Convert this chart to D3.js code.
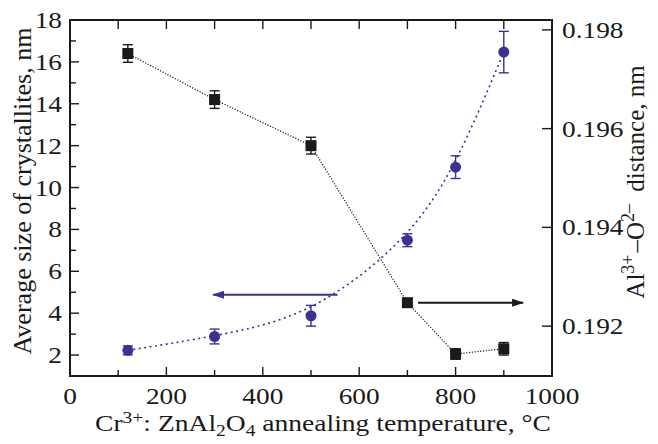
<!DOCTYPE html>
<html>
<head>
<meta charset="utf-8">
<script src="https://cdn.jsdelivr.net/npm/d3@7"></script>
</head>
<body style="margin:0">
<svg id="chart" width="658" height="444"></svg>
<script>
// Annealing temperatures, °C
const temperatures = [120, 300, 500, 700, 800, 900];
// Average crystallite size, nm (left axis)
const crystalliteSize = [16.4, 14.2, 12.0, 4.5, 2.05, 2.3];
const crystalliteErr = [0.42, 0.42, 0.4, 0.2, 0.25, 0.3];
// Al3+–O2– distance, nm (right axis)
const alODistance = [0.19151, 0.19179, 0.19221, 0.19374, 0.19522, 0.19755];
const alOErr = [0.00009, 0.00015, 0.00021, 0.00013, 0.00023, 0.00042];

const xTicks = [0, 200, 400, 600, 800, 1000];
const leftTicks = [2, 4, 6, 8, 10, 12, 14, 16, 18];
const rightTicks = [0.192, 0.194, 0.196, 0.198];

const margin = { left: 70, right: 106, top: 20, bottom: 68 };
const W = 658, H = 444;
const serif = '"Liberation Serif"';
const svg = d3.select("#chart");

const x = d3.scaleLinear().domain([0, 1000]).range([margin.left, W - margin.right]);
const yL = d3.scaleLinear().domain([1, 18]).range([H - margin.bottom, margin.top]);
const yR = d3.scaleLinear().domain([0.19099, 0.1982]).range([H - margin.bottom, margin.top]);

const ink = "#1a1a1a";
const blue = "#3b3195";
const x0 = x.range()[0], x1 = x.range()[1];
const yB = yL.range()[0], yT = yL.range()[1];

// Frame
svg.append("rect")
  .attr("x", x0).attr("y", yT)
  .attr("width", x1 - x0).attr("height", yB - yT)
  .attr("fill", "none").attr("stroke", ink).attr("stroke-width", 2);

const tickG = svg.append("g").attr("stroke", ink).attr("stroke-width", 1.4);

// X ticks: bottom and top, inward
d3.range(100, 1000, 100).forEach(v => {
  const major = v % 200 === 0;
  const len = major ? 9 : 6;
  tickG.append("line").attr("x1", x(v)).attr("x2", x(v)).attr("y1", yB).attr("y2", yB - len);
  tickG.append("line").attr("x1", x(v)).attr("x2", x(v)).attr("y1", yT).attr("y2", yT + 9);
});
// Left ticks
d3.range(2, 18, 1).forEach(v => {
  const len = v % 2 === 0 ? 9 : 6;
  tickG.append("line").attr("x1", x0).attr("x2", x0 + len).attr("y1", yL(v)).attr("y2", yL(v));
});
// Right ticks
rightTicks.forEach(v => {
  tickG.append("line").attr("x1", x1).attr("x2", x1 - 10).attr("y1", yR(v)).attr("y2", yR(v));
});

// Text helper: a group placed at (tx, ty), optionally rotated; the text
// inside can be widened along its reading direction.
const fs = 24;
function label(tx, ty, rot, anchor, size) {
  const g = svg.append("g").attr("transform", `translate(${tx},${ty}) rotate(${rot})`);
  const t = g.append("text")
    .style("font-family", serif).attr("fill", ink)
    .attr("font-size", size || fs).attr("text-anchor", anchor);
  return { g, t };
}
function stretch(lbl, sx) {
  lbl.t.attr("transform", `scale(${sx},1)`);
}
function fitTo(lbl, width) {
  const w = lbl.t.node().getBBox().width;
  stretch(lbl, width / w);
}

const tickSx = 1.14;
xTicks.forEach(d => {
  const l = label(x(d), yB + 28, 0, "middle");
  l.t.text(d); stretch(l, tickSx);
});
leftTicks.forEach(d => {
  const l = label(x0 - 8, yL(d) + 8, 0, "end");
  l.t.text(d); stretch(l, tickSx);
});
rightTicks.forEach(d => {
  const l = label(x1 + 10, yR(d) + 8, 0, "start");
  l.t.text(d3.format(".3f")(d)); stretch(l, tickSx);
});

// Axis titles
const xt = label(323, 431, 0, "middle");
xt.t.append("tspan").text("Cr");
xt.t.append("tspan").attr("dy", -8).attr("font-size", 17).text("3+");
xt.t.append("tspan").attr("dy", 8).text(": ZnAl");
xt.t.append("tspan").attr("dy", 5).attr("font-size", 17).text("2");
xt.t.append("tspan").attr("dy", -5).text("O");
xt.t.append("tspan").attr("dy", 5).attr("font-size", 17).text("4");
xt.t.append("tspan").attr("dy", -5).text(" annealing temperature, °C");
fitTo(xt, 456);

const lt = label(31, 191, -90, "middle", 25);
lt.t.text("Average size of crystallites, nm");
fitTo(lt, 328);

const rt = label(644, 182, -90, "middle", 25);
rt.t.append("tspan").text("Al");
rt.t.append("tspan").attr("dy", -10).attr("font-size", 18).text("3+");
rt.t.append("tspan").attr("dy", 10).attr("dx", 2).text("–O");
rt.t.append("tspan").attr("dy", -10).attr("font-size", 18).text("2–");
rt.t.append("tspan").attr("dy", 10).attr("dx", 6).text(" distance, nm");

// Size series: dotted straight segments
const sizeData = temperatures.map((t, i) => ({ t, v: crystalliteSize[i], e: crystalliteErr[i] }));
svg.append("path")
  .datum(sizeData)
  .attr("fill", "none").attr("stroke", ink).attr("stroke-width", 1.2)
  .attr("stroke-dasharray", "1.2,1.6")
  .attr("d", d3.line().x(d => x(d.t)).y(d => yL(d.v)));

// Distance series: smooth dotted curve
const distData = temperatures.map((t, i) => ({ t, v: alODistance[i], e: alOErr[i] }));
svg.append("path")
  .datum(distData)
  .attr("fill", "none").attr("stroke", blue).attr("stroke-width", 1.6)
  .attr("stroke-dasharray", "2,3.5")
  .attr("d", d3.line().curve(d3.curveBasis).x(d => x(d.t)).y(d => yR(d.v)));

// Error bars
function errorBars(data, yScale, color, capW) {
  const g = svg.append("g").attr("stroke", color).attr("stroke-width", 1.4);
  data.forEach(d => {
    const cx = x(d.t), ya = yScale(d.v + d.e), yb = yScale(d.v - d.e);
    g.append("line").attr("x1", cx).attr("x2", cx).attr("y1", ya).attr("y2", yb);
    g.append("line").attr("x1", cx - capW).attr("x2", cx + capW).attr("y1", ya).attr("y2", ya);
    g.append("line").attr("x1", cx - capW).attr("x2", cx + capW).attr("y1", yb).attr("y2", yb);
  });
}
errorBars(sizeData, yL, ink, 5);
errorBars(distData, yR, blue, 5);

// Markers
svg.append("g").selectAll("rect").data(sizeData).join("rect")
  .attr("x", d => x(d.t) - 5.5).attr("y", d => yL(d.v) - 5.5)
  .attr("width", 11).attr("height", 11).attr("fill", ink);
svg.append("g").selectAll("circle").data(distData).join("circle")
  .attr("cx", d => x(d.t)).attr("cy", d => yR(d.v)).attr("r", 5.5)
  .attr("fill", blue);

// Arrows pointing to each series' axis
const defs = svg.append("defs");
[["arrBlue", blue], ["arrBlack", ink]].forEach(([id, c]) => {
  defs.append("marker").attr("id", id)
    .attr("viewBox", "0 0 12 8").attr("refX", 11).attr("refY", 4)
    .attr("markerWidth", 12).attr("markerHeight", 8).attr("markerUnits", "userSpaceOnUse")
    .attr("orient", "auto")
    .append("path").attr("d", "M0,0 L12,4 L0,8 Z").attr("fill", c);
});
svg.append("line")
  .attr("x1", x(555)).attr("x2", x(297)).attr("y1", yL(4.88)).attr("y2", yL(4.88))
  .attr("stroke", blue).attr("stroke-width", 2).attr("marker-end", "url(#arrBlue)");
svg.append("line")
  .attr("x1", x(722)).attr("x2", x(940)).attr("y1", yL(4.5)).attr("y2", yL(4.5))
  .attr("stroke", ink).attr("stroke-width", 2).attr("marker-end", "url(#arrBlack)");
</script>
</body>
</html>
